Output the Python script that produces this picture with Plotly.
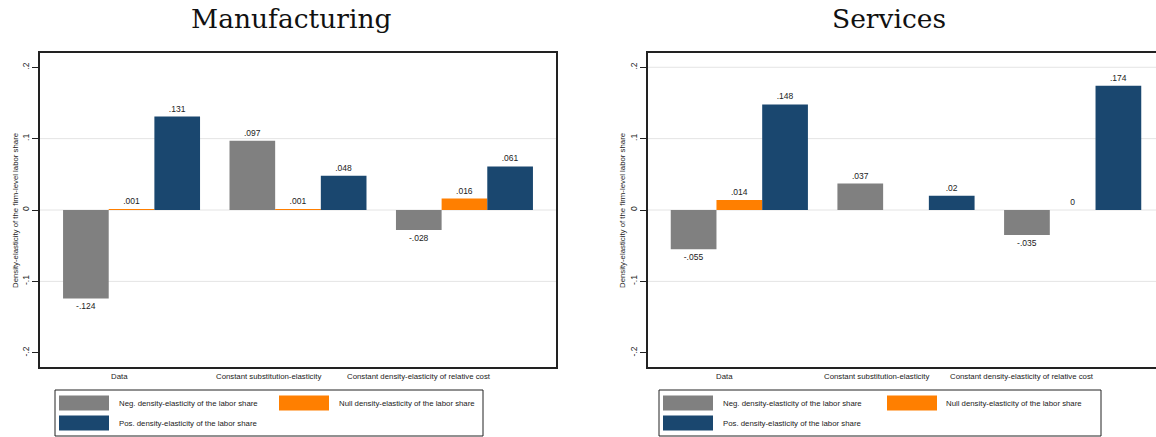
import plotly.graph_objects as go

# ---------------- data ----------------
categories = ["Data", "Constant substitution-elasticity",
              "Constant density-elasticity of relative cost"]
series_names = ["Neg. density-elasticity of the labor share",
                "Null density-elasticity of the labor share",
                "Pos. density-elasticity of the labor share"]
series_colors = ["#808080", "#FF7F00", "#1A476F"]

manuf_neg = [-0.124, 0.097, -0.028]
manuf_null = [0.001, 0.001, 0.016]
manuf_pos = [0.131, 0.048, 0.061]

serv_neg = [-0.055, 0.037, -0.035]
serv_null = [0.014, None, 0.0]
serv_pos = [0.148, 0.020, 0.174]

panel_titles = ["Manufacturing", "Services"]
y_title = "Density-elasticity of the firm-level labor share"
y_tickvals = [-0.2, -0.1, 0.0, 0.1, 0.2]
y_ticktext = ["-.2", "-.1", "0", ".1", ".2"]

W, H = 1156, 437


def fmt(v):
    if v is None:
        return ""
    if v == 0:
        return "0"
    s = f"{v:.3f}".rstrip("0").rstrip(".")
    return s.replace("0.", ".", 1)


def px_x(p):
    return p / W


def px_y(p):
    return 1 - p / H


fig = go.Figure()

panels = [
    ("x", "y", [manuf_neg, manuf_null, manuf_pos]),
    ("x2", "y2", [serv_neg, serv_null, serv_pos]),
]
for xa, ya, vals in panels:
    for name, color, v in zip(series_names, series_colors, vals):
        fig.add_trace(go.Bar(
            x=categories, y=v, name=name, xaxis=xa, yaxis=ya,
            marker=dict(color=color, line=dict(width=0)),
            text=[fmt(t) for t in v], textposition="outside",
            textfont=dict(family="Liberation Sans", size=8.5, color="#222"),
            constraintext="none", cliponaxis=False, showlegend=False,
        ))

axis_font = dict(family="Liberation Sans", size=8.5, color="#222")
yaxis_common = dict(
    range=[-0.22, 0.22], tickvals=y_tickvals, ticktext=y_ticktext,
    tickangle=-90, ticks="outside", ticklen=6, tickwidth=1, tickcolor="#222",
    showline=True, linecolor="#222", linewidth=1.5, showgrid=False,
    zeroline=False, tickfont=axis_font,
    domain=[px_y(367), px_y(53)],
)
xaxis_common = dict(
    type="category", showticklabels=False, ticks="", showgrid=False,
    zeroline=False, showline=True, linecolor="#222", linewidth=1.5,
    mirror=True,
)

fig.update_layout(
    width=W, height=H, margin=dict(l=0, r=0, t=0, b=0),
    paper_bgcolor="white", plot_bgcolor="white",
    barmode="group", bargap=0.177, bargroupgap=0,
    showlegend=False,
    xaxis=dict(xaxis_common, domain=[px_x(40), px_x(556)], range=[-0.55, 2.55],
               anchor="y"),
    yaxis=dict(yaxis_common, mirror=True, anchor="x"),
    xaxis2=dict(xaxis_common, domain=[px_x(648), 1.0], range=[-0.548, 2.5],
                anchor="y2"),
    yaxis2=dict(yaxis_common, mirror=False, anchor="x2"),
)

shapes = []
annotations = []

# grid lines
for xd, yr, gvals in [("x domain", "y", [0.1, 0.0, -0.1]),
                      ("x2 domain", "y2", [0.2, 0.1, 0.0, -0.1])]:
    for g in gvals:
        shapes.append(dict(type="line", xref=xd, yref=yr, x0=0, x1=1, y0=g, y1=g,
                           line=dict(color="#e4e4e4", width=1), layer="below"))

# titles
for title, cx in zip(panel_titles, [291, 889]):
    annotations.append(dict(text=title, x=px_x(cx), y=px_y(18.5), xref="paper",
                            yref="paper", showarrow=False, xanchor="center",
                            yanchor="middle",
                            font=dict(family="DejaVu Serif", size=26.5, color="#111")))

# y titles
for cx in [15, 622]:
    annotations.append(dict(text=y_title, x=px_x(cx), y=px_y(211), xref="paper",
                            yref="paper", showarrow=False, textangle=-90,
                            xanchor="center", yanchor="middle",
                            font=dict(family="Liberation Sans", size=7.8, color="#222")))

# category labels
label_centers = [[119, 268.5, 419], [724, 876, 1021.7]]
for centers in label_centers:
    for cat, cx in zip(categories, centers):
        annotations.append(dict(text=cat, x=px_x(cx), y=px_y(376), xref="paper",
                                yref="paper", showarrow=False, xanchor="center",
                                yanchor="middle",
                                font=dict(family="Liberation Sans", size=7.8,
                                          color="#222")))

# legends (drawn boxes)
legend_boxes = [(55, 483), (659, 1101)]
for (bx0, bx1) in legend_boxes:
    shapes.append(dict(type="rect", xref="paper", yref="paper",
                       x0=px_x(bx0), x1=px_x(bx1), y0=px_y(436), y1=px_y(390),
                       line=dict(color="#222", width=1), fillcolor="white"))
    col2 = bx0 + 224 if bx0 < 600 else bx0 + 228
    slots = [(bx0 + 4, 403), (col2, 403), (bx0 + 4, 423)]
    for name, color, (sx, sy) in zip(series_names, series_colors, slots):
        shapes.append(dict(type="rect", xref="paper", yref="paper",
                           x0=px_x(sx), x1=px_x(sx + 50), y0=px_y(sy + 7.5),
                           y1=px_y(sy - 7.5), line=dict(width=0), fillcolor=color))
        annotations.append(dict(text=name, x=px_x(sx + 57.5), y=px_y(sy),
                                xref="paper", yref="paper", showarrow=False,
                                xanchor="left", yanchor="middle",
                                font=dict(family="Liberation Sans", size=7.8,
                                          color="#222")))

fig.update_layout(shapes=shapes, annotations=annotations)
fig.write_html("out.html")
